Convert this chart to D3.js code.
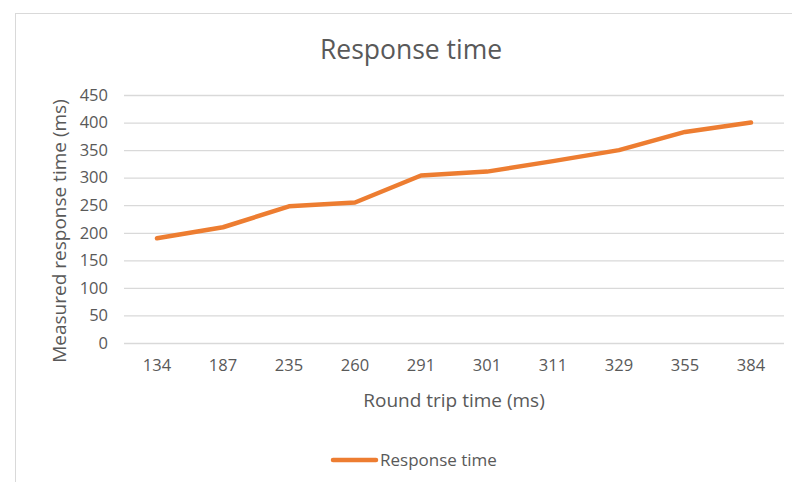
<!DOCTYPE html>
<html>
<head>
<meta charset="utf-8">
<script src="https://cdn.jsdelivr.net/npm/d3@7/dist/d3.min.js"></script>
<style>
html,body{margin:0;padding:0;background:#fff;}
svg{display:block;}
text{font-family:"Open Sans",sans-serif;fill:#595959;}
</style>
</head>
<body>
<svg id="chart" width="792" height="482"></svg>
<script>
const categories = ["134","187","235","260","291","301","311","329","355","384"];
const responseTime = [190,210,248,255,304,311,330,350,383,400];
const yTicks = [0,50,100,150,200,250,300,350,400,450];
const seriesName = "Response time";
const chartTitle = "Response time";
const xTitle = "Round trip time (ms)";
const yTitle = "Measured response time (ms)";

const svg = d3.select("#chart");
svg.append("rect").attr("x",15.5).attr("y",13.5).attr("width",820).attr("height",500)
  .attr("fill","#fff").attr("stroke","#d9d9d9").attr("stroke-width",1);

const plot = {left:124, right:784, top:95, bottom:343};
const x = d3.scaleBand().domain(categories).range([plot.left, plot.right]);
const y = d3.scaleLinear().domain([0,450]).range([plot.bottom, plot.top]);

const yAxis = d3.axisLeft(y).tickValues(yTicks).tickSize(-(plot.right-plot.left)).tickPadding(16);
const gy = svg.append("g").attr("transform",`translate(${plot.left},0)`).call(yAxis);
gy.select(".domain").remove();
gy.selectAll(".tick line").attr("stroke","#d9d9d9").attr("stroke-width",1.3);
gy.selectAll(".tick text").attr("font-size",16.5).attr("fill","#595959").style("font-family","'Open Sans',sans-serif");

const xAxis = d3.axisBottom(x).tickSize(0).tickPadding(16);
const gx = svg.append("g").attr("transform",`translate(0,${plot.bottom})`).call(xAxis);
gx.select(".domain").remove();
gx.selectAll(".tick text").attr("font-size",16.5).attr("fill","#595959").style("font-family","'Open Sans',sans-serif");

const line = d3.line().x((d,i)=>x(categories[i])+x.bandwidth()/2).y(d=>y(d));
svg.append("path").datum(responseTime).attr("d",line)
  .attr("fill","none").attr("stroke","#ed7d31").attr("stroke-width",4.5)
  .attr("stroke-linecap","round").attr("stroke-linejoin","round");

svg.append("text").attr("x",411).attr("y",59).attr("text-anchor","middle")
  .attr("font-size",26.5).text(chartTitle);
svg.append("text").attr("x",454).attr("y",407).attr("text-anchor","middle")
  .attr("font-size",19).text(xTitle);
svg.append("text").attr("transform","translate(66,231) rotate(-90)").attr("text-anchor","middle")
  .attr("font-size",19).text(yTitle);

svg.append("line").attr("x1",333).attr("x2",376).attr("y1",460).attr("y2",460)
  .attr("stroke","#ed7d31").attr("stroke-width",4.5).attr("stroke-linecap","round");
svg.append("text").attr("x",380).attr("y",466).attr("font-size",17).text(seriesName);
</script>
</body>
</html>
